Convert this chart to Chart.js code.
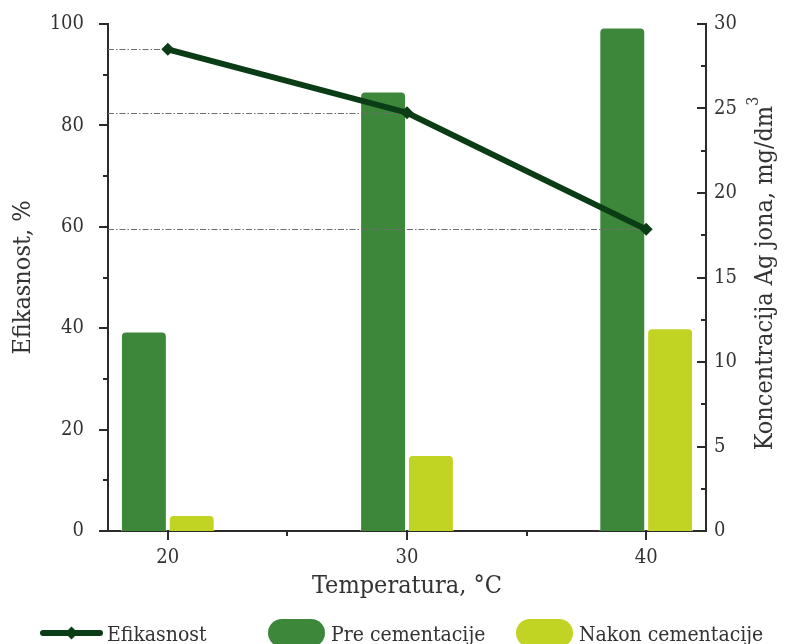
<!DOCTYPE html>
<html>
<head>
<meta charset="utf-8">
<script src="https://cdn.jsdelivr.net/npm/chart.js@4/dist/chart.umd.min.js"></script>
<style>
  html, body { margin: 0; padding: 0; background: #ffffff; }
  #wrap { width: 793px; height: 644px; }
</style>
</head>
<body>
<div id="wrap"><canvas id="c" width="793" height="644"></canvas></div>
<script>
// Cementation of Ag ions: efficiency and concentration vs temperature
const temperatures = [20, 30, 40];            // °C
const efficiency   = [95, 82.5, 59.5];        // %
const agBefore     = [11.8, 26.0, 29.8];      // mg/dm3, before cementation
const agAfter      = [0.95, 4.5, 12.0];       // mg/dm3, after cementation
const seriesNames  = ['Efikasnost', 'Pre cementacije', 'Nakon cementacije'];
const xTitle  = 'Temperatura, °C';
const yTitle  = 'Efikasnost, %';
const y1Title = 'Koncentracija Ag jona, mg/dm';
const y1TitleExp = '3';

const FONT = "'DejaVu Serif Condensed', 'DejaVu Serif', serif";
const INK = '#2b2b2b';
const TEXT = '#333333';
const LINE_GREEN = '#0a3c16';
const PRE_GREEN = '#3d873b';
const POST_GREEN = '#c1d323';

// x ticks every 5 °C: labelled at the measured temperatures, minor in between
const xStep = 5;
const xTicks = [];
for (let t = temperatures[0]; t <= temperatures[temperatures.length - 1]; t += xStep) xTicks.push(t);

// Fixed axis sizes; the plot area starts right below the top margin
const fitVertical = width => s => {
  s.width = width;
  s.paddingTop = 0;
  s.paddingBottom = 0;
};

// Tick marks: major where a label is shown, short ones elsewhere
const tickMarks = {
  id: 'tickMarks',
  afterDraw(chart) {
    const ctx = chart.ctx;
    ctx.save();
    ctx.strokeStyle = INK;
    ctx.lineWidth = 2;
    const mark = (scale, kind) => {
      scale.ticks.forEach(t => {
        const major = t.label !== '' && t.label !== undefined && t.label !== null;
        const len = major ? 9 : 5;
        const p = Math.round(scale.getPixelForValue(t.value));
        ctx.beginPath();
        if (kind === 'bottom') { ctx.moveTo(p, scale.top); ctx.lineTo(p, scale.top + len); }
        else if (kind === 'left') { ctx.moveTo(scale.right, p); ctx.lineTo(scale.right - len, p); }
        else { ctx.moveTo(scale.left, p); ctx.lineTo(scale.left - len, p); }
        ctx.stroke();
      });
    };
    mark(chart.scales.x, 'bottom');
    mark(chart.scales.y, 'left');
    mark(chart.scales.y1, 'right');
    ctx.restore();
  }
};

// Dash-dot guides from the left axis to each efficiency point
const guides = {
  id: 'guides',
  beforeDatasetDraw(chart, args) {
    if (args.meta.type !== 'line') return;
    const {ctx, chartArea, scales: {x, y}} = chart;
    ctx.save();
    ctx.strokeStyle = '#6e6e6e';
    ctx.lineWidth = 1;
    ctx.setLineDash([6, 2, 1.5, 2]);
    temperatures.forEach((t, i) => {
      const px = x.getPixelForValue(t);
      const py = Math.round(y.getPixelForValue(efficiency[i])) + 0.5;
      ctx.beginPath();
      ctx.moveTo(chartArea.left, py);
      ctx.lineTo(px, py);
      ctx.stroke();
    });
    ctx.restore();
  }
};

// Right-hand axis title, reading bottom to top, with a raised exponent
const rightTitle = {
  id: 'rightTitle',
  afterDraw(chart) {
    const {ctx, chartArea} = chart;
    ctx.save();
    ctx.font = '25px ' + FONT;
    const mainW = ctx.measureText(y1Title).width;
    ctx.font = '16px ' + FONT;
    const expW = ctx.measureText(y1TitleExp).width;
    const total = mainW + expW;
    ctx.translate(765, (chartArea.top + chartArea.bottom) / 2 - 4);
    ctx.rotate(-Math.PI / 2);
    ctx.fillStyle = TEXT;
    ctx.textAlign = 'left';
    ctx.textBaseline = 'middle';
    ctx.font = '25px ' + FONT;
    ctx.fillText(y1Title, -total / 2, 0);
    ctx.font = '16px ' + FONT;
    ctx.fillText(y1TitleExp, -total / 2 + mainW, -11);
    ctx.restore();
  }
};

// Legend row along the bottom edge
const bottomLegend = {
  id: 'bottomLegend',
  afterDraw(chart) {
    const ctx = chart.ctx;
    const ds = chart.data.datasets;
    const cy = chart.height - 11;
    const starts = [40, 268, 516];
    ctx.save();
    ctx.font = '21px ' + FONT;
    ctx.fillStyle = TEXT;
    ctx.textBaseline = 'alphabetic';
    ds.forEach((d, i) => {
      const x0 = starts[i];
      let w;
      if (d.type === 'line') {
        w = 63;
        ctx.strokeStyle = d.borderColor;
        ctx.lineWidth = 6;
        ctx.lineCap = 'round';
        ctx.beginPath();
        ctx.moveTo(x0 + 3, cy); ctx.lineTo(x0 + w - 3, cy);
        ctx.stroke();
        const mx = x0 + w / 2, r = 6.5;
        ctx.fillStyle = d.borderColor;
        ctx.beginPath();
        ctx.moveTo(mx, cy - r); ctx.lineTo(mx + r, cy);
        ctx.lineTo(mx, cy + r); ctx.lineTo(mx - r, cy);
        ctx.closePath(); ctx.fill();
        ctx.fillStyle = TEXT;
        ctx.fillText(d.label, x0 + w + 4, cy + 8);
      } else {
        w = 57;
        ctx.fillStyle = d.backgroundColor;
        ctx.beginPath();
        ctx.roundRect(x0, cy - 14, w, 28, 14);
        ctx.fill();
        ctx.fillStyle = TEXT;
        ctx.fillText(d.label, x0 + w + 6, cy + 8);
      }
    });
    ctx.restore();
  }
};

new Chart(document.getElementById('c'), {
  type: 'bar',
  data: {
    labels: temperatures,
    datasets: [
      {
        type: 'line',
        label: seriesNames[0],
        data: efficiency,
        yAxisID: 'y',
        order: 0,
        borderColor: LINE_GREEN,
        backgroundColor: LINE_GREEN,
        borderWidth: 6,
        pointStyle: 'rectRot',
        pointRadius: 6.5,
        pointBorderWidth: 0,
        pointBackgroundColor: LINE_GREEN,
        tension: 0
      },
      {
        label: seriesNames[1],
        data: agBefore,
        yAxisID: 'y1',
        order: 1,
        backgroundColor: PRE_GREEN,
        borderColor: 'rgba(255,255,255,0.55)',
        borderWidth: 1,
        borderRadius: 5
      },
      {
        label: seriesNames[2],
        data: agAfter,
        yAxisID: 'y1',
        order: 1,
        backgroundColor: POST_GREEN,
        borderColor: 'rgba(255,255,255,0.55)',
        borderWidth: 1,
        borderRadius: 5
      }
    ]
  },
  options: {
    responsive: false,
    animation: false,
    devicePixelRatio: 1,
    categoryPercentage: 0.8,
    barPercentage: 0.96,
    layout: { padding: { top: 24, right: 0, bottom: 34, left: 0 } },
    plugins: { legend: { display: false }, tooltip: { enabled: false } },
    scales: {
      x: {
        type: 'linear',
        offset: false,
        min: temperatures[0] - xStep / 2,
        max: temperatures[temperatures.length - 1] + xStep / 2,
        afterBuildTicks: s => { s.ticks = xTicks.map(v => ({ value: v })); },
        afterFit: s => { s.height = 79; },
        grid: { display: false, drawTicks: false },
        border: { display: true, color: INK, width: 2 },
        ticks: {
          padding: 15,
          color: TEXT,
          font: { family: FONT, size: 20 },
          callback: v => (temperatures.includes(v) ? String(v) : '')
        },
        title: {
          display: true, text: xTitle, color: TEXT,
          font: { family: FONT, size: 25 },
          padding: { top: 0, bottom: 9 }
        }
      },
      y: {
        position: 'left',
        min: 0, max: 100,
        afterFit: fitVertical(108),
        grid: { display: false, drawTicks: false },
        border: { display: true, color: INK, width: 2 },
        ticks: {
          stepSize: 10,
          padding: 24,
          color: TEXT,
          font: { family: FONT, size: 20 },
          callback: v => (v % 20 === 0 ? String(v) : '')
        },
        title: {
          display: true, text: yTitle, color: TEXT,
          font: { family: FONT, size: 25 },
          padding: { top: 8, bottom: 0 }
        }
      },
      y1: {
        position: 'right',
        min: 0, max: 30,
        afterFit: fitVertical(87),
        grid: { display: false, drawTicks: false },
        border: { display: true, color: INK, width: 2 },
        ticks: {
          stepSize: 2.5,
          padding: 8,
          color: TEXT,
          font: { family: FONT, size: 20 },
          callback: v => (v % 5 === 0 ? String(v) : '')
        },
        title: { display: false }
      }
    }
  },
  plugins: [guides, tickMarks, rightTitle, bottomLegend]
});
</script>
</body>
</html>
